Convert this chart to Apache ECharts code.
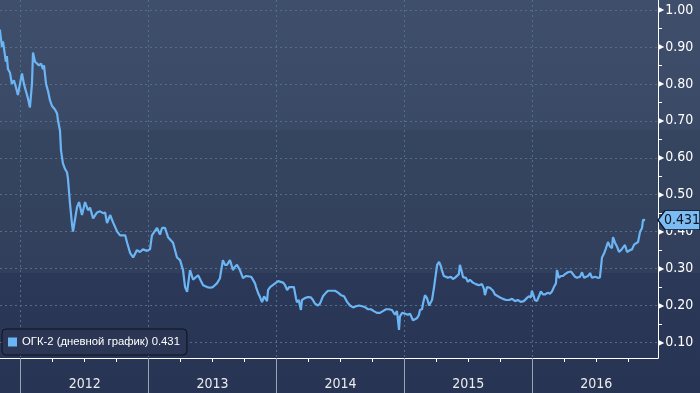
<!DOCTYPE html>
<html><head><meta charset="utf-8">
<script src="https://cdn.jsdelivr.net/npm/echarts@6/dist/echarts.min.js"></script>
<style>html,body{margin:0;padding:0;background:#2a3656;}#c{width:700px;height:393px;}</style>
</head><body><div id="c"></div>
<script>
const seriesName = 'ОГК-2 (дневной график)';
// time in decimal years
const years = [
2011.837,2011.853,2011.861,2011.876,2011.884,2011.892,2011.900,2011.916,2011.931,2011.947,2011.963,2011.978,
2011.994,2012.010,2012.025,2012.041,2012.057,2012.072,2012.088,2012.096,2012.112,2012.127,2012.143,2012.159,
2012.174,2012.182,2012.198,2012.214,2012.229,2012.245,2012.269,2012.284,2012.292,
2012.307,2012.315,2012.330,2012.346,2012.362,2012.369,2012.385,2012.401,2012.409,2012.417,2012.440,2012.456,
2012.479,2012.503,2012.526,2012.542,2012.566,2012.597,2012.620,2012.644,2012.660,2012.675,2012.699,2012.722,
2012.754,2012.777,2012.817,2012.832,2012.856,2012.879,
2012.909,2012.932,2012.956,2012.987,2013.011,2013.026,2013.034,2013.066,2013.089,2013.105,2013.128,2013.152,
2013.167,2013.191,2013.222,2013.246,2013.269,2013.285,2013.301,2013.324,2013.348,2013.387,2013.426,2013.458,2013.481,
2013.503,2013.534,2013.558,2013.565,2013.581,2013.597,2013.613,2013.636,2013.660,2013.675,2013.691,2013.714,
2013.738,2013.762,2013.777,2013.801,2013.816,2013.832,2013.840,2013.856,2013.871,2013.887,2013.903,2013.911,
2013.926,2013.934,2013.950,2013.965,2013.989,2014.013,2014.028,2014.052,2014.067,2014.083,2014.099,
2014.112,2014.136,2014.152,2014.160,2014.175,2014.183,2014.191,2014.199,2014.222,2014.246,2014.269,2014.285,
2014.301,2014.324,2014.340,2014.363,2014.387,2014.403,2014.418,2014.434,2014.458,2014.481,2014.505,2014.528,
2014.552,2014.575,2014.599,2014.622,2014.646,2014.669,
2014.691,2014.714,2014.738,2014.761,2014.785,2014.809,2014.832,2014.856,2014.879,2014.903,2014.926,2014.942,
2014.958,2014.965,2014.981,2015.005,2015.028,2015.044,2015.067,2015.083,2015.099,2015.114,2015.122,2015.138,
2015.146,2015.161,2015.177,2015.193,2015.201,2015.216,2015.232,2015.240,2015.256,2015.271,2015.287,
2015.293,2015.308,2015.324,2015.340,2015.363,2015.379,2015.395,2015.410,2015.426,2015.434,2015.450,2015.458,
2015.481,2015.497,2015.512,2015.536,2015.559,2015.583,2015.607,2015.622,2015.630,2015.646,2015.669,2015.693,
2015.708,2015.732,2015.748,2015.771,2015.795,2015.818,2015.842,2015.865,
2015.887,2015.910,2015.934,2015.957,2015.973,2015.989,2015.997,2016.012,2016.020,2016.036,2016.052,2016.067,
2016.083,2016.099,2016.122,2016.138,2016.154,2016.169,2016.185,2016.193,2016.208,2016.224,2016.240,2016.256,
2016.279,2016.303,2016.318,2016.334,2016.350,2016.373,2016.389,2016.405,2016.420,2016.436,2016.452,2016.467,
2016.491,
2016.513,2016.529,2016.545,2016.560,2016.576,2016.592,2016.607,2016.623,2016.631,2016.647,2016.662,2016.678,
2016.694,2016.709,2016.725,2016.741,2016.749,2016.764,2016.780,2016.796,2016.811,2016.827,2016.843,2016.858,
2016.866,2016.882
];
const prices = [
0.947,0.900,0.915,0.880,0.860,0.875,0.840,0.830,0.800,0.810,0.790,0.770,
0.800,0.828,0.800,0.780,0.760,0.736,0.800,0.885,0.860,0.865,0.850,0.855,
0.840,0.850,0.800,0.780,0.755,0.740,0.730,0.720,0.700,
0.674,0.620,0.585,0.570,0.560,0.545,0.477,0.420,0.400,0.396,0.466,0.480,
0.445,0.480,0.458,0.465,0.436,0.452,0.455,0.450,0.452,0.423,0.445,0.425,
0.400,0.390,0.390,0.370,0.342,0.330,
0.350,0.345,0.352,0.348,0.352,0.390,0.390,0.410,0.392,0.410,0.410,0.385,
0.380,0.370,0.330,0.323,0.296,0.250,0.237,0.296,0.270,0.282,0.255,0.250,0.248,
0.250,0.260,0.274,0.290,0.323,0.310,0.310,0.323,0.296,0.305,0.310,0.296,
0.274,0.280,0.277,0.278,0.270,0.260,0.250,0.234,0.223,0.209,0.225,0.223,
0.212,0.242,0.250,0.255,0.260,0.266,0.263,0.262,0.255,0.242,0.250,
0.248,0.250,0.220,0.209,0.215,0.200,0.188,0.215,0.220,0.223,0.222,0.215,
0.205,0.200,0.205,0.225,0.235,0.240,0.245,0.240,0.240,0.235,0.228,0.225,
0.210,0.200,0.195,0.198,0.200,0.198,
0.196,0.190,0.190,0.185,0.180,0.180,0.185,0.190,0.190,0.188,0.175,0.185,
0.134,0.170,0.180,0.178,0.175,0.178,0.160,0.163,0.166,0.175,0.188,0.190,
0.206,0.228,0.220,0.200,0.205,0.215,0.250,0.270,0.310,0.318,0.305,
0.296,0.280,0.278,0.275,0.278,0.272,0.275,0.270,0.285,0.310,0.290,0.277,
0.275,0.264,0.270,0.262,0.258,0.255,0.258,0.245,0.228,0.250,0.248,0.240,
0.230,0.225,0.222,0.218,0.215,0.215,0.218,0.212,
0.215,0.210,0.212,0.220,0.225,0.222,0.240,0.225,0.215,0.212,0.225,0.238,
0.230,0.230,0.235,0.232,0.238,0.250,0.260,0.296,0.275,0.280,0.280,0.285,
0.290,0.292,0.288,0.278,0.275,0.278,0.290,0.275,0.272,0.280,0.288,0.275,
0.278,
0.275,0.276,0.330,0.340,0.355,0.372,0.360,0.355,0.385,0.370,0.360,0.345,
0.350,0.345,0.364,0.345,0.342,0.350,0.352,0.365,0.370,0.372,0.400,0.410,
0.432,0.431
];
const yLabelTicks = [0.10,0.20,0.30,0.40,0.50,0.60,0.70,0.80,0.90,1.00];
const yMinorTicks = [0.15,0.25,0.35,0.45,0.55,0.65,0.75,0.85,0.95];
const xYearTicks = [2012,2013,2014,2015,2016];
const xQuarterTicks = [2012.25,2012.5,2012.75,2013.25,2013.5,2013.75,2014.25,2014.5,2014.75,2015.25,2015.5,2015.75,2016.25,2016.5,2016.75];
const xYearLabelPos = [2012.5,2013.5,2014.5,2015.5,2016.5];
const X_MIN = 2011.838, X_MAX = 2016.983, Y_MIN = 0.058, Y_MAX = 1.027;

const FONT = "'Liberation Sans Narrow','DejaVu Sans Condensed','Liberation Sans',sans-serif";
const lastPrice = prices[prices.length - 1];
const seriesData = years.map((t, i) => [t, prices[i]]);

const chart = echarts.init(document.getElementById('c'), null, {renderer: 'canvas'});
chart.setOption({
  animation: false,
  backgroundColor: new echarts.graphic.LinearGradient(0, 0, 0, 1, [
    {offset: 0, color: '#3e4e6b'},
    {offset: 0.33, color: '#3a4966'},
    {offset: 0.331, color: '#36455f'},
    {offset: 0.694, color: '#313f5c'},
    {offset: 0.695, color: '#2b3857'},
    {offset: 1, color: '#283453'}
  ]),
  grid: {left: 0, right: 42, top: 0, bottom: 35, containLabel: false, outerBoundsMode: 'none'},
  legend: {
    show: true, left: 2, top: 329, padding: [6, 7, 6, 6], itemGap: 5,
    backgroundColor: '#2a3654', borderColor: '#0c1220', borderWidth: 1, borderRadius: 4,
    itemWidth: 9, itemHeight: 9, icon: 'rect', data: [seriesName],
    formatter: n => n + ' ' + lastPrice.toFixed(3),
    textStyle: {color: '#ffffff', fontSize: 11.3, lineHeight: 14, fontFamily: "'Liberation Sans',sans-serif"}
  },
  xAxis: [
    {
      type: 'value', min: X_MIN, max: X_MAX, position: 'bottom',
      axisLine: {show: true, onZero: false, lineStyle: {color: '#ffffff', width: 1}},
      axisTick: {show: true, customValues: xQuarterTicks, length: 4, lineStyle: {color: '#ffffff'}},
      axisLabel: {show: true, customValues: xYearLabelPos, formatter: v => String(Math.floor(v)),
                  color: '#ececec', fontSize: 14, fontFamily: FONT, margin: 19},
      splitLine: {show: false}
    },
    {
      type: 'value', min: X_MIN, max: X_MAX, position: 'bottom',
      axisLine: {show: false, onZero: false},
      axisTick: {show: true, customValues: xYearTicks, length: 35, lineStyle: {color: '#9aa2b4'}},
      axisLabel: {show: false},
      splitLine: {show: true, lineStyle: {color: '#4f6f8b', type: [2, 3], width: 1}}
    }
  ],
  yAxis: [
    {
      type: 'value', min: Y_MIN, max: Y_MAX, position: 'right',
      axisLine: {show: true, onZero: false, lineStyle: {color: '#ffffff', width: 1}},
      axisTick: {show: true, customValues: yMinorTicks, length: 4, lineStyle: {color: '#ffffff'}},
      axisLabel: {show: true, customValues: yLabelTicks, margin: 0,
        formatter: v => '{t|▶}{v|' + v.toFixed(2) + '}',
        rich: {
          t: {fontSize: 8, color: '#ffffff', fontFamily: "'DejaVu Sans'"},
          v: {fontSize: 14, color: '#ffffff', fontFamily: FONT, padding: [0, 0, 0, 1]}
        }},
      splitLine: {show: false}
    },
    {
      type: 'value', min: Y_MIN, max: Y_MAX, position: 'right',
      axisLine: {show: false, onZero: false},
      axisTick: {show: false, customValues: yLabelTicks},
      axisLabel: {show: false},
      splitLine: {show: true, lineStyle: {color: '#4f6f8b', type: [2, 3], width: 1}}
    }
  ],
  series: [{
    name: seriesName, type: 'line', xAxisIndex: 0, yAxisIndex: 0,
    data: seriesData, showSymbol: false, symbol: 'none',
    lineStyle: {color: '#6cb5f5', width: 2.2},
    itemStyle: {color: '#6cb5f5'},
    markPoint: {
      silent: true,
      symbol: 'path://M0,9.5 L7,0 L42,0 L42,19 L7,19 Z',
      symbolSize: [42, 19], symbolOffset: [21, 0],
      itemStyle: {color: '#7bbcf2', borderColor: '#0d1526', borderWidth: 1},
      label: {show: true, position: 'inside', offset: [3, 0], color: '#0b1222',
              fontSize: 14, fontFamily: FONT, formatter: () => lastPrice.toFixed(3)},
      data: [{coord: [X_MAX, lastPrice], value: lastPrice}]
    }
  }]
});
</script></body></html>
